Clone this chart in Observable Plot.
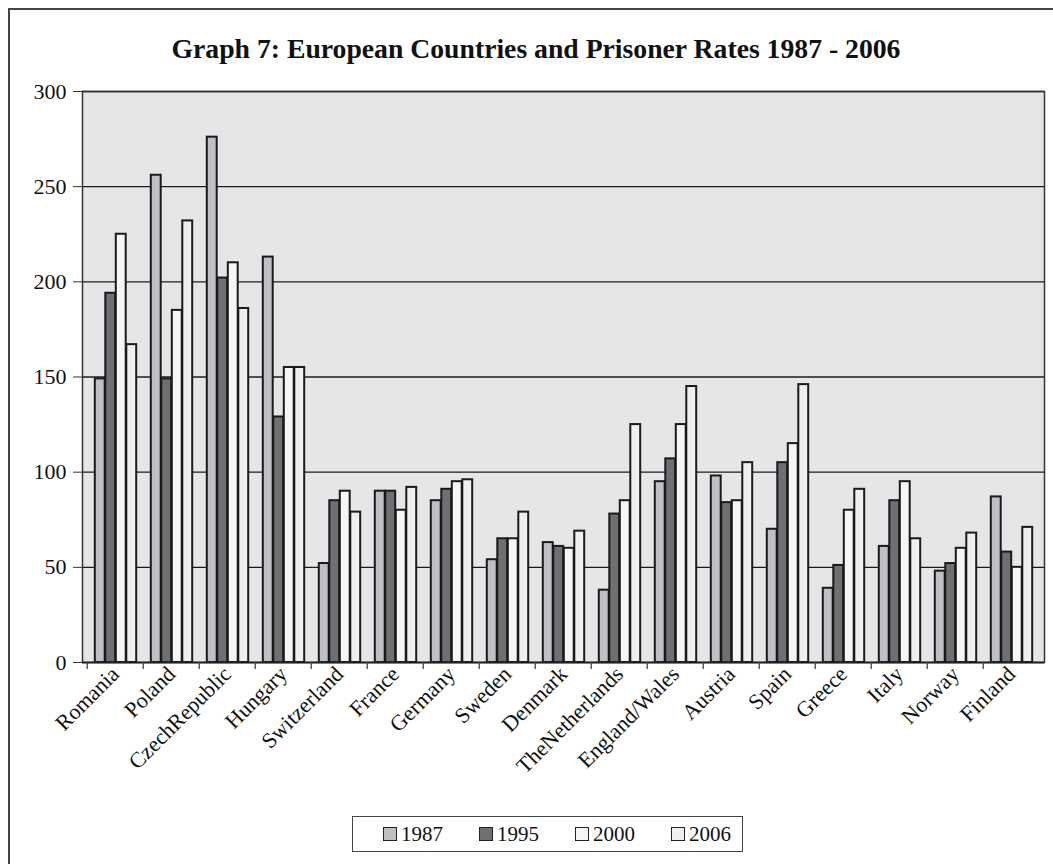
<!DOCTYPE html>
<html>
<head>
<meta charset="utf-8">
<script src="https://cdn.jsdelivr.net/npm/d3@7"></script>
<script src="https://cdn.jsdelivr.net/npm/@observablehq/plot@0.6"></script>
<style>
  html, body { margin: 0; padding: 0; background: #fff; }
  body { width: 1053px; height: 864px; position: relative; overflow: hidden; font-family: "Liberation Serif", "Times New Roman", serif; color: #111; }
  #outer { position: absolute; left: 8px; top: 8px; width: 1100px; height: 900px; border-left: 2px solid #444; border-top: 2px solid #444; box-sizing: border-box; }
  #title { position: absolute; left: 8px; top: 35px; width: 1056px; text-align: center; font-weight: bold; font-size: 27.7px; line-height: 27px; }
  #chart { position: absolute; left: 0; top: 80px; }
  #legend { position: absolute; left: 352px; top: 816px; width: 391px; height: 36px; border: 1px solid #444; box-sizing: border-box; display: flex; align-items: center; padding-left: 30px; }
  .item { display: flex; align-items: center; font-size: 21px; width: 96px; flex-shrink: 0; }
  .sw { width: 14px; height: 14px; border: 1.8px solid #222; margin-right: 4px; box-sizing: border-box; }
</style>
</head>
<body>
<div id="outer"></div>
<div id="title">Graph 7: European Countries and Prisoner Rates 1987 - 2006</div>
<div id="chart"></div>
<div id="legend"></div>
<script>
// Prisoners per 100,000 population, by country and year
const countries = ["Romania", "Poland", "CzechRepublic", "Hungary", "Switzerland", "France", "Germany", "Sweden", "Denmark", "TheNetherlands", "England/Wales", "Austria", "Spain", "Greece", "Italy", "Norway", "Finland"];
const years = ["1987", "1995", "2000", "2006"];
const rate1987 = [149, 256, 276, 213, 52, 90, 85, 54, 63, 38, 95, 98, 70, 39, 61, 48, 87];
const rate1995 = [194, 149, 202, 129, 85, 90, 91, 65, 61, 78, 107, 84, 105, 51, 85, 52, 58];
const rate2000 = [225, 185, 210, 155, 90, 80, 95, 65, 60, 85, 125, 85, 115, 80, 95, 60, 50];
const rate2006 = [167, 232, 186, 155, 79, 92, 96, 79, 69, 125, 145, 105, 146, 91, 65, 68, 71];
const yTicks = [0, 50, 100, 150, 200, 250, 300];
const fills = ["#bfc0c4", "#6f7074", "#f5f5f5", "#efefef"];

const series = [rate1987, rate1995, rate2000, rate2006];
const table = years.flatMap((year, i) =>
  countries.map((country, j) => ({country, year, value: series[i][j]}))
);

// Plot geometry
const width = 1053, height = 712;
const marginLeft = 82, marginRight = 9, marginTop = 11, marginBottom = 130;
const bandWidth = (width - marginLeft - marginRight) / countries.length;
const barWidth = 10.5;
const groupLeft = (bandWidth - barWidth * years.length) / 2 + 0.5;

const barMarks = years.map((year, i) => {
  const insetLeft = groupLeft + i * barWidth;
  const insetRight = bandWidth - insetLeft - barWidth;
  return Plot.barY(table.filter(d => d.year === year), {
    x: "country", y: "value",
    fill: fills[i], stroke: "#1a1a1a", strokeWidth: 2,
    insetLeft, insetRight
  });
});

const chart = Plot.plot({
  width, height, marginLeft, marginRight, marginTop, marginBottom,
  style: {fontFamily: "Liberation Serif, Times New Roman, serif", fontSize: "21px", color: "#111", background: "transparent", overflow: "visible"},
  x: {domain: countries, padding: 0, axis: null},
  y: {domain: [0, 300], axis: null},
  marks: [
    Plot.frame({fill: "#e5e6e8", stroke: null}),
    Plot.gridY(yTicks, {stroke: "#1c1c1c", strokeOpacity: 1, strokeWidth: 1.3}),
    ...barMarks,
    Plot.frame({stroke: "#333", strokeWidth: 1.5}),
    Plot.ruleY([0], {stroke: "#222", strokeWidth: 1.5}),
    // category boundary ticks below the baseline
    Plot.axisX({tickSize: 7, fill: "none", stroke: "#444", strokeWidth: 1.3, dx: -bandWidth / 2, label: null}),
    Plot.axisX({tickSize: 0, tickRotate: -45, tickPadding: 8, fontSize: 22, label: null}),
    Plot.axisY({ticks: yTicks, tickSize: 9, tickPadding: 7, fontSize: 22, stroke: "#333", label: null})
  ]
});
document.getElementById("chart").appendChild(chart);

// Legend
const legend = document.getElementById("legend");
years.forEach((year, i) => {
  const item = document.createElement("div");
  item.className = "item";
  const sw = document.createElement("span");
  sw.className = "sw";
  sw.style.background = fills[i];
  item.appendChild(sw);
  item.appendChild(document.createTextNode(year));
  legend.appendChild(item);
});
</script>
</body>
</html>
